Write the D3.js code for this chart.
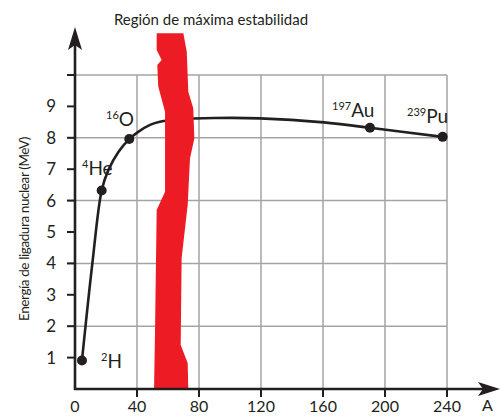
<!DOCTYPE html>
<html><head><meta charset="utf-8">
<script src="https://cdn.jsdelivr.net/npm/d3@7"></script>
<style>
html,body{margin:0;padding:0;background:#fff;}
text{font-family:Lato,"Open Sans",sans-serif;fill:#231f20;}
</style></head>
<body>
<svg id="c" width="500" height="416"></svg>
<script>
// ---- data ----
const nuclides = ["2H","4He","16O","197Au","239Pu"];
const massNumbers = [4.5, 17.2, 35, 190.3, 237.2];
const bindingEnergy = [0.91, 6.32, 7.96, 8.32, 8.03];
const labelSup = ["2","4","16","197","239"];
const labelMain = ["H","He","O","Au","Pu"];
// curve through points (A, MeV)
const curveA = [4.5, 11.2, 17.2, 21.5, 28, 35, 40.8, 48.4, 54.8, 67.7, 90, 119.4, 160.6, 190.3, 237.2];
const curveE = [0.91, 4.0, 6.32, 6.97, 7.55, 7.96, 8.19, 8.41, 8.51, 8.59, 8.63, 8.62, 8.49, 8.32, 8.03];
// stability band outline (A, MeV)
const bandLeftA = [52.7, 52.7, 55.9, 53.1, 53.7, 58.1, 58.1, 52.7, 52.3, 51.6, 51.0];
const bandLeftE = [11.33, 10.80, 10.48, 10.32, 9.63, 8.83, 6.28, 5.70, 4.27, 1.72, 0];
const bandRightA = [69.9, 72.1, 73.1, 76.3, 77.0, 74.2, 72.7, 68.8, 68.2, 72.7, 73.1];
const bandRightE = [11.33, 10.74, 9.47, 8.94, 7.98, 7.35, 5.86, 4.17, 1.40, 0.83, 0];
const xTicks = [0, 40, 80, 120, 160, 200, 240];
const yTickLabels = [1,2,3,4,5,6,7,8,9];
const yGrid = [2,4,6,8,10];
const xGrid = [40,80,120,160,200,240];
const titleText = "Región de máxima estabilidad";
const yTitle = "Energía de ligadura nuclear (MeV)";
const xTitle = "A";

// ---- scales ----
const x = d3.scaleLinear().domain([0, 240]).range([75, 447]);
const y = d3.scaleLinear().domain([0, 10]).range([389, 75]);
const svg = d3.select("#c");
const ink = "#231f20";

// grid
const g = svg.append("g");
g.selectAll(".hg").data(yGrid).join("line")
  .attr("x1", x(0) - 8).attr("x2", x(240))
  .attr("y1", d => y(d)).attr("y2", d => y(d))
  .attr("stroke", "#a3a3a3").attr("stroke-width", 1.5);
g.selectAll(".vg").data(xGrid).join("line")
  .attr("x1", d => x(d)).attr("x2", d => x(d))
  .attr("y1", y(0)).attr("y2", y(10))
  .attr("stroke", "#a3a3a3").attr("stroke-width", 1.5);

// curve
const pts = curveA.map((a, i) => [a, curveE[i]]);
svg.append("path")
  .attr("d", d3.line().x(d => x(d[0])).y(d => y(d[1])).curve(d3.curveCatmullRom.alpha(0.5))(pts))
  .attr("fill", "none").attr("stroke", ink).attr("stroke-width", 2.6);

// band
const band = bandLeftA.map((a, i) => [a, bandLeftE[i]])
  .concat(bandRightA.map((a, i) => [a, bandRightE[i]]).reverse());
svg.append("path")
  .attr("d", d3.line().x(d => x(d[0])).y(d => y(d[1])).curve(d3.curveLinearClosed)(band))
  .attr("fill", "#ed1c24");

// dots
svg.selectAll(".dot").data(massNumbers).join("circle")
  .attr("cx", d => x(d)).attr("cy", (d, i) => y(bindingEnergy[i]))
  .attr("r", 5).attr("fill", ink);

// nuclide labels
const labelPos = [[101, 368], [82, 175], [106, 126], [332, 117], [407, 123]];
labelMain.forEach((m, i) => {
  const t = svg.append("text").attr("x", labelPos[i][0]).attr("y", labelPos[i][1])
    .attr("font-size", 19);
  t.append("tspan").text(labelSup[i]).attr("font-size", 11).attr("dy", -7);
  t.append("tspan").text(m).attr("dy", 7);
});

// axes
svg.append("line").attr("x1", x(0)).attr("x2", x(0)).attr("y1", y(0) + 1).attr("y2", 40)
  .attr("stroke", ink).attr("stroke-width", 2.6);
svg.append("path").attr("d", `M${x(0)},27 L${x(0)+7},50 L${x(0)},45 L${x(0)-7},50 Z`).attr("fill", ink);
svg.append("line").attr("x1", x(0) - 1).attr("x2", 488).attr("y1", y(0)).attr("y2", y(0))
  .attr("stroke", ink).attr("stroke-width", 2.6);
svg.append("path").attr("d", `M500,${y(0)} L478,${y(0)-7} L483,${y(0)} L478,${y(0)+7} Z`).attr("fill", ink);

// y ticks
svg.selectAll(".yt").data(d3.range(1, 11)).join("line")
  .attr("x1", x(0) - 8).attr("x2", x(0)).attr("y1", d => y(d)).attr("y2", d => y(d))
  .attr("stroke", ink).attr("stroke-width", 2);
svg.selectAll(".ytl").data(yTickLabels).join("text")
  .attr("x", 56).attr("y", d => y(d) + 6).attr("text-anchor", "end")
  .attr("font-size", 17).text(d => d);
// x ticks
svg.selectAll(".xt").data(xTicks.slice(1)).join("line")
  .attr("x1", d => x(d)).attr("x2", d => x(d)).attr("y1", y(0)).attr("y2", y(0) + 8)
  .attr("stroke", ink).attr("stroke-width", 2);
svg.selectAll(".xtl").data(xTicks).join("text")
  .attr("x", d => x(d)).attr("y", 412).attr("text-anchor", "middle")
  .attr("font-size", 16).text(d => d);

// titles
svg.append("text").attr("x", 211).attr("y", 25).attr("text-anchor", "middle")
  .attr("font-size", 15).text(titleText);
svg.append("text").attr("transform", "translate(29,229) rotate(-90)").attr("text-anchor", "middle")
  .attr("font-size", 13.5).attr("letter-spacing", -0.4).text(yTitle);
svg.append("text").attr("x", 482).attr("y", 411).attr("font-size", 16).text(xTitle);
</script>
</body></html>
